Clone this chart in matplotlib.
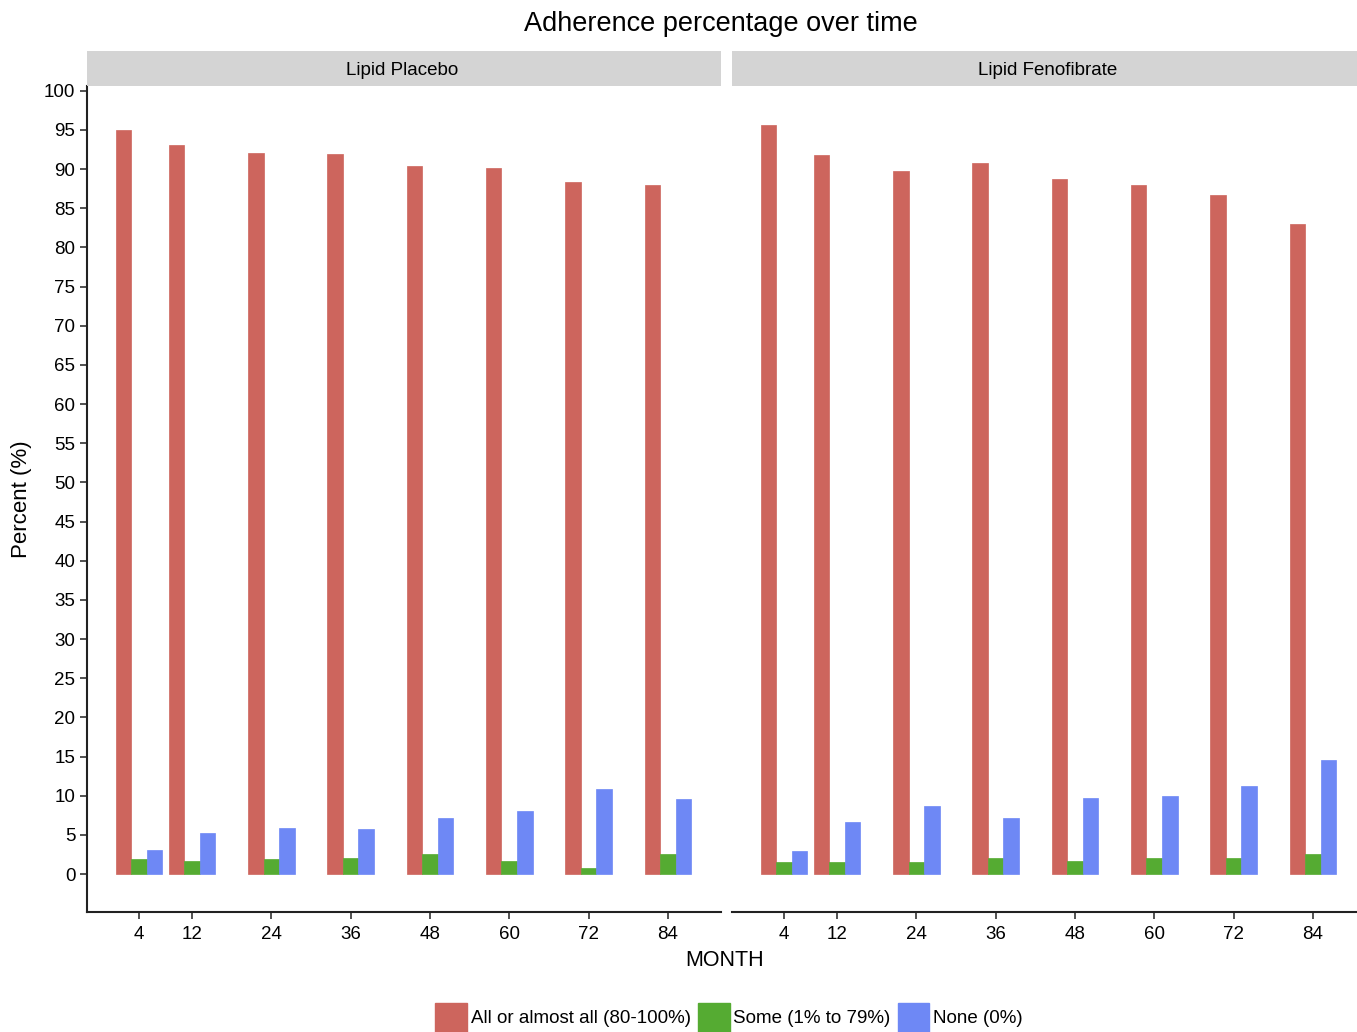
import matplotlib
matplotlib.use("Agg")
import matplotlib.pyplot as plt
from matplotlib.patches import Patch
import numpy as np

plt.rcParams['font.family'] = ['Liberation Sans', 'DejaVu Sans']

months = [4, 12, 24, 36, 48, 60, 72, 84]
panels = ["Lipid Placebo", "Lipid Fenofibrate"]
categories = ["All or almost all (80-100%)", "Some (1% to 79%)", "None (0%)"]

placebo_all = [95.0, 93.1, 92.1, 91.9, 90.4, 90.1, 88.3, 87.9]
placebo_some = [1.9, 1.7, 1.9, 2.1, 2.5, 1.7, 0.8, 2.5]
placebo_none = [3.1, 5.2, 5.9, 5.7, 7.1, 8.1, 10.9, 9.6]

feno_all = [95.6, 91.8, 89.8, 90.8, 88.7, 87.9, 86.7, 83.0]
feno_some = [1.5, 1.5, 1.5, 2.1, 1.7, 2.1, 2.1, 2.5]
feno_none = [2.9, 6.6, 8.7, 7.1, 9.7, 10.0, 11.2, 14.5]

colors = ["#CD655D", "#55AB32", "#6E88F5"]

W, H = 1357, 1032
fig = plt.figure(figsize=(W / 100, H / 100), dpi=100)

# panel geometry in pixels
pt, pb, pw = 86, 912, 634
strip_h = 35
lefts = [86.5, 731.5]

bar_w = 2.35
x = np.array(months, dtype=float)
series = [[placebo_all, placebo_some, placebo_none],
          [feno_all, feno_some, feno_none]]

for i, (name, vals) in enumerate(zip(panels, series)):
    left = lefts[i]
    ax = fig.add_axes([left / W, 1 - pb / H, pw / W, (pb - pt) / H])
    for j, v in enumerate(vals):
        ax.bar(x + (j - 1) * bar_w, v, width=bar_w, color=colors[j],
               edgecolor=colors[j], linewidth=0.5)
    ax.set_xlim(-3.96, 91.96)
    ax.set_ylim(-4.85, 100.6)
    ax.set_xticks(months)
    ax.set_xticklabels([str(m) for m in months])
    ax.tick_params(axis='x', length=5, width=1.2, color='#333333',
                   labelsize=13.5, pad=5)
    for s in ['top', 'right']:
        ax.spines[s].set_visible(False)
    ax.spines['bottom'].set_linewidth(1.5)
    ax.spines['bottom'].set_color('#222222')
    if i == 0:
        ax.set_yticks(np.arange(0, 101, 5))
        ax.tick_params(axis='y', length=5, width=1.2, color='#333333',
                       labelsize=13.5, pad=3)
        ax.spines['left'].set_linewidth(1.5)
        ax.spines['left'].set_color('#222222')
    else:
        ax.spines['left'].set_visible(False)
        ax.set_yticks([])

    # facet strip
    sax = fig.add_axes([left / W, 1 - pt / H, pw / W, strip_h / H])
    sax.set_facecolor('#D4D4D4')
    sax.set_xticks([])
    sax.set_yticks([])
    for s in sax.spines.values():
        s.set_visible(False)
    sax.text(0.5 - 1.0 / pw, 0.45, name, ha='center', va='center',
             fontsize=13.5, transform=sax.transAxes)

fig.text(721 / W, 1 - 24 / H, "Adherence percentage over time",
         ha='center', va='center', fontsize=19.5)
fig.text(725 / W, 1 - 960 / H, "MONTH", ha='center', va='center',
         fontsize=15.5)
fig.text(22 / W, 1 - 499 / H, "Percent (%)", ha='center', va='center',
         fontsize=16, rotation=90)

handles = [Patch(facecolor=c, edgecolor=c) for c in colors]
fig.legend(handles, categories, loc='upper center', ncol=3,
           bbox_to_anchor=(729 / W, 1 - 1003 / H), frameon=False,
           fontsize=13.5, handlelength=1.7, handleheight=2.0,
           handletextpad=0.2, columnspacing=0.37, borderpad=0,
           borderaxespad=0)

fig.savefig("out.png", dpi=100)
